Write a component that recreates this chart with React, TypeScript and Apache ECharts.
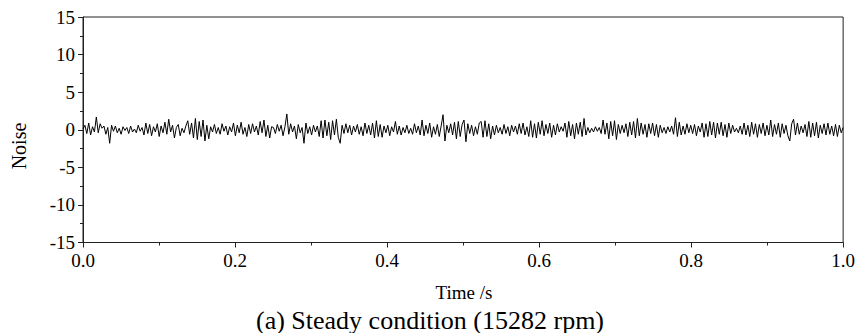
import React, { useEffect, useRef } from "react";
import * as echarts from "echarts";

// Noise samples, in eight consecutive segments over 0–1 s
const seg0 = [0.1, 0.6, -0.5, 0.9, -0.7, 0.4, -0.3, 1.7, -0.4, 0.8, 0.2, 0.5, -0.6, 0.3, -1.8, 0.6, -0.2, 0.5, -0.4, 0.2, -0.6, 0.4, -0.1, 0.3, -0.5, 0.5, -0.3, 0.1, -0.4, 0.6, -0.2, 0.3, -0.7, 0.9, -0.5, 0.7, -0.8, 0.4, -0.3, 0.8, -0.9, 0.5, -0.4, 1.0, -0.6, 1.4, -0.3, 0.6, -1.1, 0.3];
const seg1 = [0.7, -0.8, 0.2, -0.4, 0.5, 1.2, -0.6, 0.9, -1.1, 1.5, -1.3, 1.1, -0.9, 1.3, -1.5, 0.6, -1.2, 0.4, -0.3, 0.7, -0.5, 0.3, -0.6, 0.8, -0.2, 0.5, -0.7, 0.4, -0.3, 0.9, -0.8, 0.6, -0.4, 1.0, -0.6, 0.3, -0.9, 0.7, -0.5, 0.8, -0.3, 0.5, -0.7, 1.1, -0.4, 1.3, -0.9, 0.6, -1.1, 0.4];
const seg2 = [0.3, -0.5, 0.7, -0.2, 0.6, -0.8, 0.4, 2.1, -0.6, 0.8, -0.3, 0.5, -1.2, 0.7, -0.4, 0.3, -1.8, 0.9, -0.5, 0.4, -0.7, 0.6, -0.3, 0.5, -0.9, 1.2, -1.1, 1.3, -0.8, 1.0, -1.3, 1.2, -0.7, 1.4, -1.0, -1.8, 0.6, -0.5, 0.8, -0.4, 0.6, -0.7, 0.5, -0.3, 0.7, -0.6, 0.4, -0.8, 0.9, -0.5];
const seg3 = [0.6, -0.7, 0.9, -1.1, 1.2, -0.9, 0.7, -1.0, 0.5, -0.4, 0.6, -0.8, 0.4, -0.3, 1.1, -0.6, 0.5, -0.7, 0.3, -0.4, 0.6, -0.5, 0.2, -0.6, 0.8, -0.4, 0.5, -0.7, 1.3, -0.8, 0.6, -0.5, 0.9, -1.0, 0.4, -0.6, 0.7, -0.9, 0.5, 2.0, -1.5, 0.6, -0.4, 0.8, -0.7, 1.0, -1.2, 1.1, -0.9, 0.7];
const seg4 = [1.3, -1.6, 0.8, -0.5, 0.6, -0.8, 0.4, -0.6, 0.9, 1.1, -1.0, 1.2, -0.9, 0.8, -1.2, 0.5, -0.7, 0.6, -0.4, 0.3, -0.6, 0.7, -0.5, 0.4, -0.8, 0.6, -0.3, 0.5, -0.6, 0.8, -0.5, 0.9, -0.7, 0.4, -0.9, 1.2, -1.0, 0.8, -1.1, 1.0, -0.6, 1.2, -0.8, 0.7, -0.5, 0.9, -1.0, 0.6, -0.7, 0.8];
const seg5 = [-0.3, 0.4, -0.2, 0.9, -1.0, 1.1, -0.8, 0.7, -1.2, 0.9, -0.6, 1.0, -0.9, 1.5, -0.7, 0.3, -0.4, 0.2, -0.3, 0.4, -0.2, 0.3, -0.5, 1.3, -0.6, 0.9, -1.2, 1.1, -0.8, 1.2, -1.3, 0.7, -0.5, 0.6, -0.4, 0.8, -0.9, 1.0, -0.7, 1.1, -1.1, 1.5, -0.8, 0.9, -0.6, 0.7, -1.0, 0.8, -0.5, 0.9];
const seg6 = [-0.8, 0.7, -1.0, 0.6, -0.4, 0.3, -0.5, 0.4, -0.3, 0.5, -0.6, 1.6, -0.9, 1.0, -0.7, 0.5, -0.6, 0.8, -0.4, 0.6, -0.5, 0.7, -0.8, 0.5, -0.3, 0.9, -1.0, 0.8, -0.9, 1.1, -0.7, 1.0, -1.1, 0.9, -0.6, 1.0, -0.8, 0.7, -1.0, 0.9, -0.5, 0.6, -0.3, 0.2, -0.4, 0.5, -0.6, 0.9, -0.7, 0.6];
const seg7 = [-0.9, 1.0, -0.6, 0.8, -1.0, 0.7, -0.5, 0.9, -0.8, 0.6, -0.7, 1.3, -0.9, 0.7, -0.6, 0.9, -1.0, 0.8, -0.5, 0.6, -0.8, -1.5, 0.8, 1.4, -0.7, 0.9, -0.6, 0.5, -0.4, 0.7, -0.9, 1.1, -1.0, 0.9, -0.8, 1.0, -1.1, 0.6, -0.5, 0.8, -0.7, 0.9, -0.6, 0.5, -0.8, 0.7, -0.9, 0.6, -0.4, 0.3];

const timeStart = 0;
const timeEnd = 1;
const yTicks = [-15, -10, -5, 0, 5, 10, 15];
const xTicks = [0, 0.2, 0.4, 0.6, 0.8, 1.0];
const yLabel = "Noise";
const xLabel = "Time /s";
const caption = "(a) Steady condition (15282 rpm)";

const FONT = "Times New Roman, Liberation Serif, serif";

export default function App() {
  const ref = useRef<HTMLDivElement>(null);
  useEffect(() => {
    if (!ref.current) return;
    const chart = echarts.init(ref.current, null, { renderer: "svg" });
    const values = [...seg0, ...seg1, ...seg2, ...seg3, ...seg4, ...seg5, ...seg6, ...seg7];
    const n = values.length;
    const data = values.map((v, i) => [timeStart + ((timeEnd - timeStart) * i) / (n - 1), v]);
    chart.setOption({
      animation: false,
      backgroundColor: "#fff",
      grid: {
        left: 83,
        right: 12,
        top: 17,
        bottom: 90.5,
        show: true,
        borderColor: "#222",
        borderWidth: 1,
        containLabel: false,
      },
      xAxis: {
        type: "value",
        min: xTicks[0],
        max: xTicks[xTicks.length - 1],
        interval: 0.2,
        axisLine: { show: true, onZero: false, lineStyle: { color: "#222", width: 1 } },
        axisTick: { show: true, inside: false, length: 5, lineStyle: { color: "#222" } },
        minorTick: { show: true, splitNumber: 2, length: 3, lineStyle: { color: "#222" } },
        splitLine: { show: false },
        axisLabel: {
          color: "#000",
          fontFamily: FONT,
          fontSize: 19,
          margin: 8,
          formatter: (v: number) => v.toFixed(1),
        },
      },
      yAxis: {
        type: "value",
        min: yTicks[0],
        max: yTicks[yTicks.length - 1],
        interval: 5,
        axisLine: { show: true, lineStyle: { color: "#222", width: 1 } },
        axisTick: { show: true, inside: false, length: 5, lineStyle: { color: "#222" } },
        minorTick: { show: true, splitNumber: 2, length: 3, lineStyle: { color: "#222" } },
        splitLine: { show: false },
        axisLabel: {
          color: "#000",
          fontFamily: FONT,
          fontSize: 19,
          margin: 8,
        },
      },
      graphic: [
        {
          type: "text",
          x: 18.5,
          y: 146,
          rotation: Math.PI / 2,
          style: {
            text: yLabel,
            fontFamily: FONT,
            fontSize: 20,
            fill: "#000",
            textAlign: "center",
            textVerticalAlign: "middle",
          },
        },
        {
          type: "text",
          x: 464,
          y: 292,
          style: {
            text: xLabel,
            fontFamily: FONT,
            fontSize: 19,
            fill: "#000",
            textAlign: "center",
            textVerticalAlign: "middle",
          },
        },
        {
          type: "text",
          x: 430,
          y: 320,
          style: {
            text: caption,
            fontFamily: FONT,
            fontSize: 26,
            fill: "#000",
            textAlign: "center",
            textVerticalAlign: "middle",
          },
        },
      ],
      series: [
        {
          type: "line",
          data,
          showSymbol: false,
          symbol: "none",
          lineStyle: { color: "#000", width: 1 },
        },
      ],
    });
    return () => chart.dispose();
  }, []);
  return (
    <div
      ref={ref}
      style={{ position: "fixed", left: 0, top: 0, width: 858, height: 333, background: "#fff" }}
    />
  );
}
